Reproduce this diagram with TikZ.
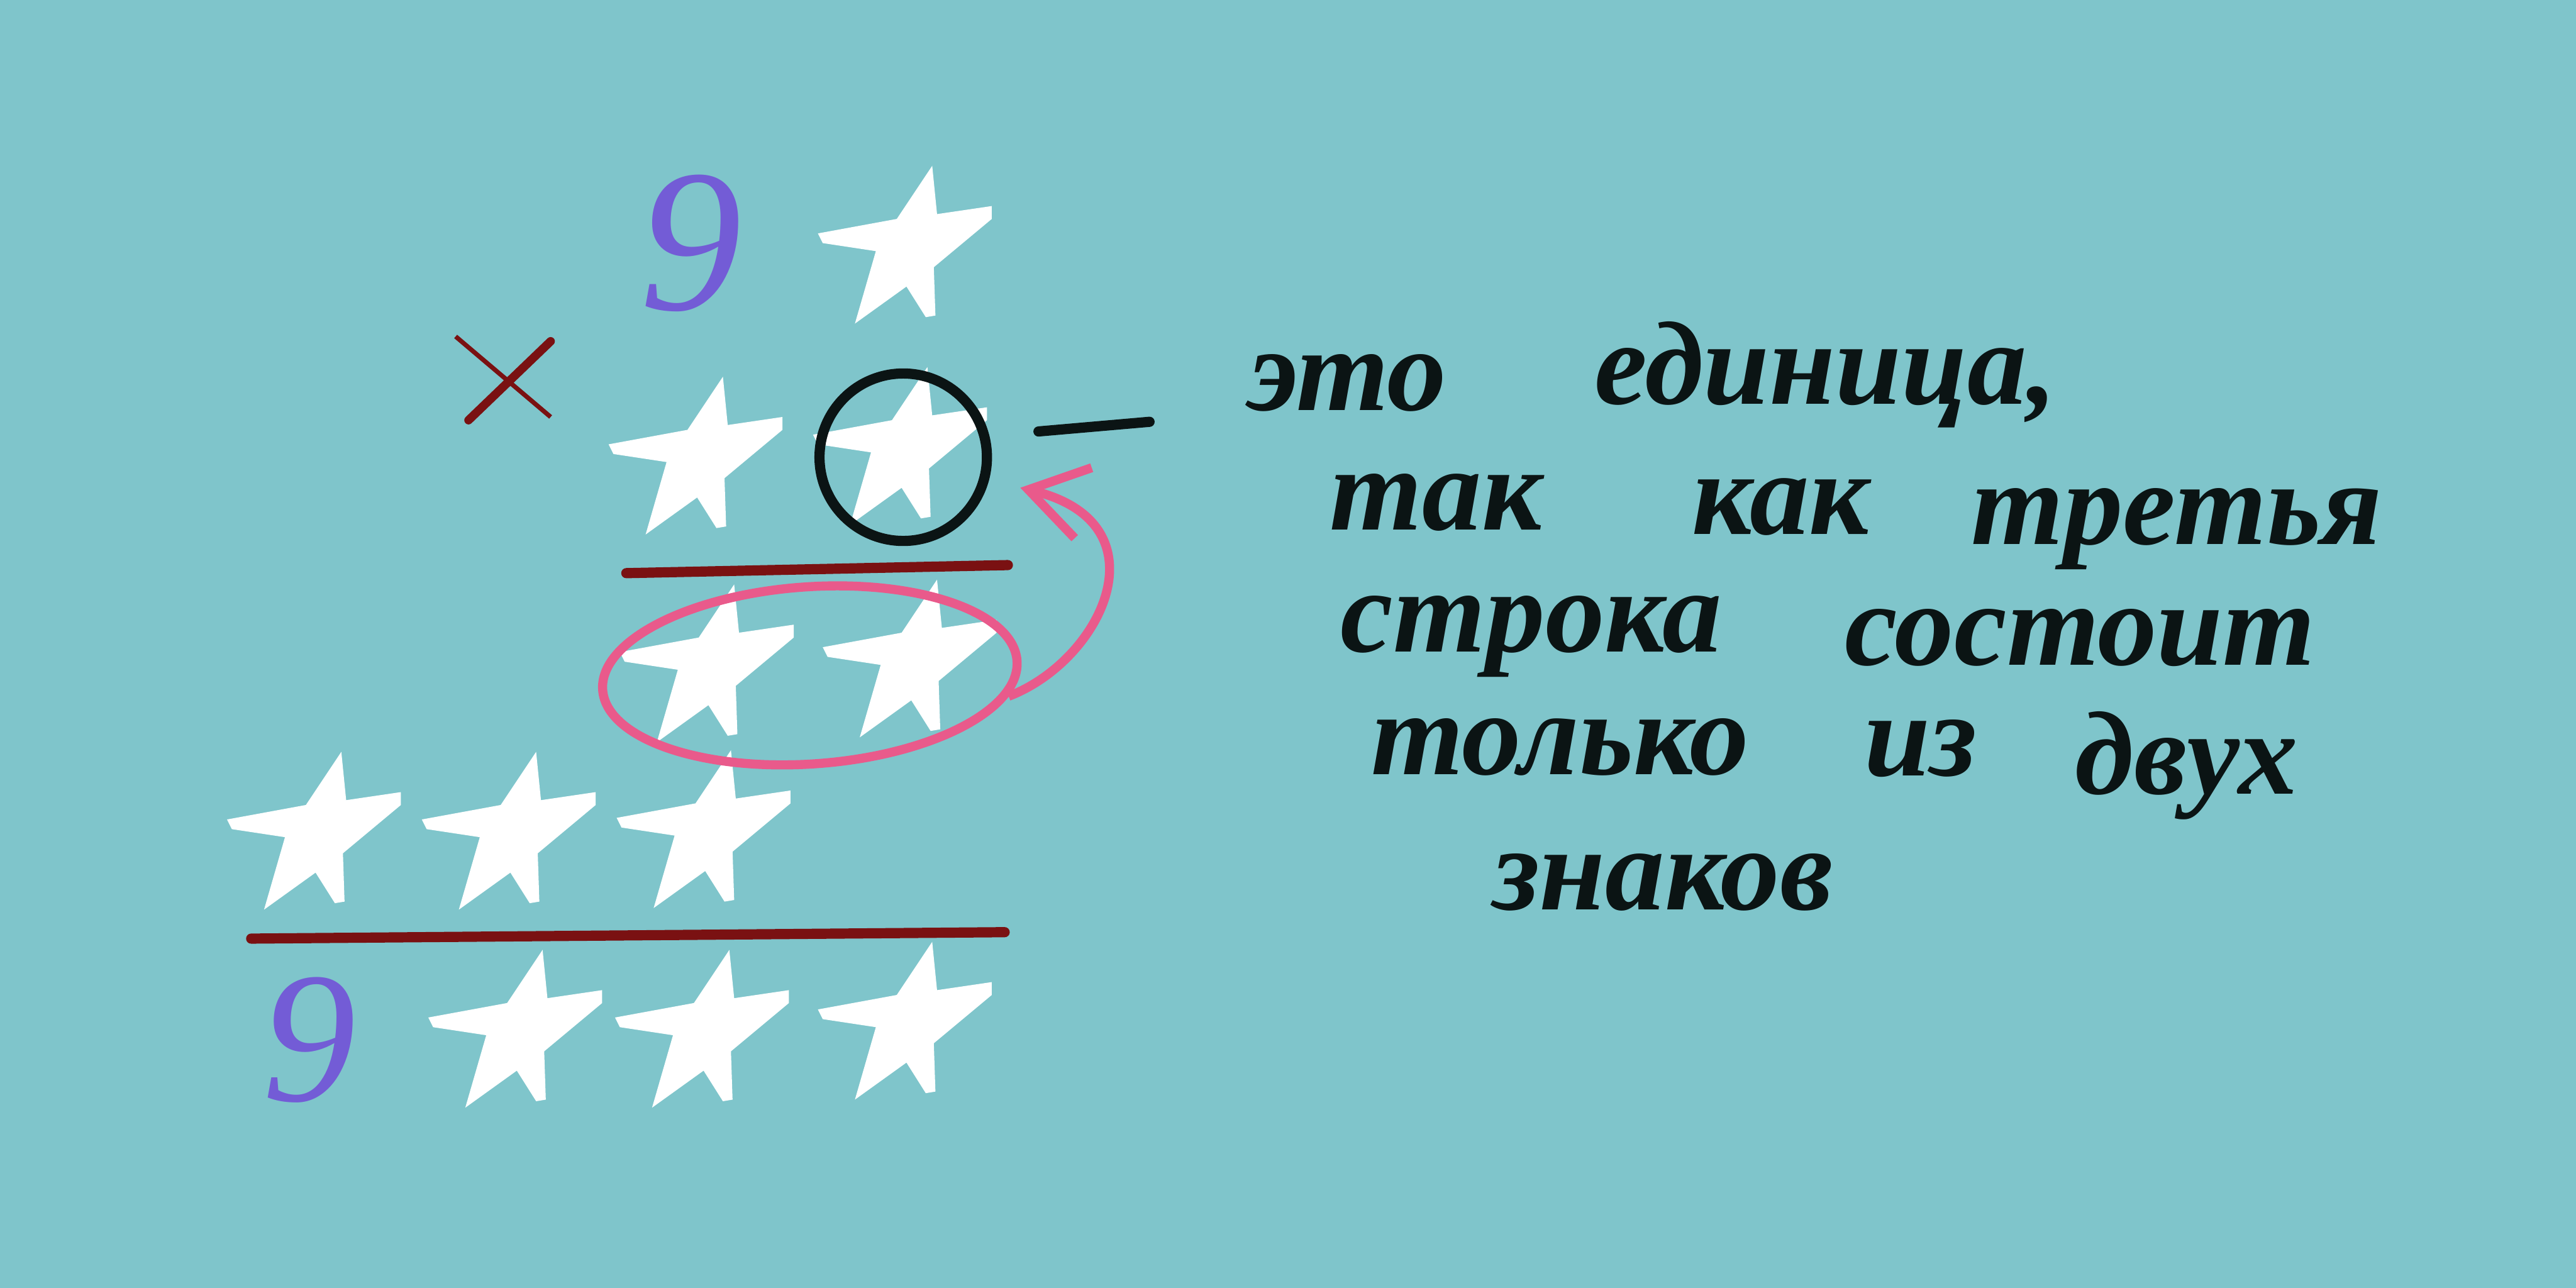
\documentclass[tikz,border=0pt]{standalone}
\usepackage{fontspec}
\setmainfont{Liberation Serif}
\usetikzlibrary{arrows.meta,calc,shapes.geometric}
\definecolor{sea}{HTML}{7FC5CB}
\definecolor{plum}{HTML}{735CD6}
\definecolor{rust}{HTML}{7A1112}
\definecolor{rose}{HTML}{E95A8B}
\definecolor{ink}{HTML}{0B1414}
\tikzset{
	word/.style={anchor=base, inner sep=0pt, text=ink, font=\bfseries\itshape\fontsize{21}{21}\selectfont},
	nine/.style={text=plum, inner sep=0pt, font=\itshape\fontsize{36}{36}\selectfont},
	bar/.style={rust, line width=1.8pt, line cap=round},
	onering/.style={draw=ink, line width=1.8pt, circle, minimum size=1.04cm, inner sep=0pt},
	pairring/.style={draw=rose, line width=1.6pt, ellipse, minimum width=2.58cm, minimum height=1.1cm, inner sep=0pt}
}
\begin{document}
\begin{tikzpicture}
	\fill [sea] (0, 0) rectangle (16, 8);
	\useasboundingbox (0, 0) rectangle (16, 8);
	\foreach \n/\x/\y in {a/5.63/6.44, b1/4.33/5.13, b2/5.60/5.19, c1/4.40/3.84, c2/5.66/3.87, d1/1.96/2.80, d2/3.17/2.80, d3/4.38/2.81, e1/3.21/1.57, e2/4.37/1.57, e3/5.63/1.62} {
		\coordinate (\n) at (\x, \y);
		\fill [white, shift={(\x, \y)}] (0.16, 0.53) -- (0.19, 0.23) -- (0.53, 0.28) -- (0.53, 0.20) -- (0.17, -0.10) -- (0.18, -0.40) -- (0.12, -0.41) -- (0.0, -0.22) -- (-0.32, -0.45) -- (-0.19, 0.0) -- (-0.52, 0.05) -- (-0.55, 0.11) -- (-0.06, 0.20) -- cycle;
	}
	\node (n1) at (4.29, 6.49) [nine] {9};
	\node (n2) at (1.92, 1.54) [nine, font=\itshape\fontsize{33}{33}\selectfont] {9};
	\draw [rust, line width=0.8pt] (2.83, 5.91) -- (3.42, 5.41);
	\draw [rust, line width=1.5pt, line cap=round] (2.91, 5.39) -- (3.42, 5.88);
	\draw [bar] (3.89, 4.44) -- (6.26, 4.49);
	\draw [bar] (1.56, 2.17) -- (6.24, 2.21);
	\node (one) at ($(b2) + (0.01, -0.03)$) [onering] {};
	\node (pair) at ($(c1)!0.5!(c2) + (0, -0.05)$) [pairring, rotate=4] {};
	\draw [rose, line width=1.6pt, -{Straight Barb[length=3.5mm, width=4.5mm]}, shorten >=2mm] (pair.-10) .. controls (6.85, 3.9) and (7.25, 4.75) .. (one.-15);
	\coordinate (dl) at (6.45, 5.32);
	\coordinate (dr) at (7.14, 5.38);
	\draw [ink, line width=1.8pt, line cap=round] (dl) -- (dr);
	\node (w1) at (8.37, 5.45) [word] {это};
	\node (w2) at (11.34, 5.49) [word] {единица,};
	\node (w3) at (8.92, 4.71) [word] {так};
	\node (w4) at (11.06, 4.68) [word] {как};
	\node (w5) at (13.52, 4.62) [word] {третья};
	\node (w6) at (9.51, 3.95) [word] {строка};
	\node (w7) at (12.92, 3.87) [word] {состоит};
	\node (w8) at (9.69, 3.19) [word] {только};
	\node (w9) at (11.93, 3.18) [word] {из};
	\node (w10) at (13.58, 3.07) [word] {двух};
	\node (w11) at (10.33, 2.35) [word] {знаков};
\end{tikzpicture}
\end{document}
